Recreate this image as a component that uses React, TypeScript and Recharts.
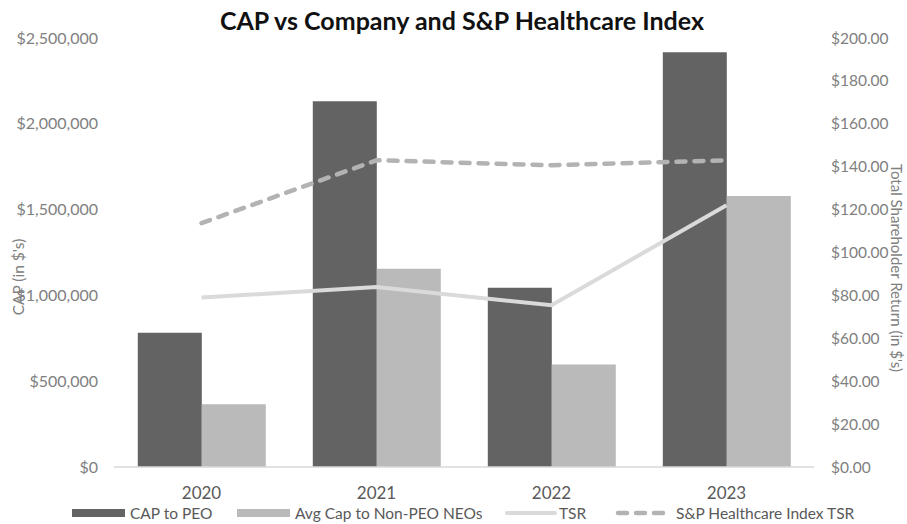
import { Bar, ComposedChart, Line, XAxis, YAxis } from "recharts";

const years = ["2020", "2021", "2022", "2023"];
const capToPeo = [783000, 2131000, 1045000, 2417000];
const avgCapNonPeo = [365000, 1156000, 597000, 1579000];
const tsr = [79.0, 83.9, 75.4, 122.0];
const spHealthcareTsr = [113.7, 143.0, 140.7, 143.0];

const capTicks = [0, 500000, 1000000, 1500000, 2000000, 2500000];
const tsrTicks = [0, 20, 40, 60, 80, 100, 120, 140, 160, 180, 200];

const data = years.map((year, i) => ({
  year,
  cap: capToPeo[i],
  avg: avgCapNonPeo[i],
  tsr: tsr[i],
  sp: spHealthcareTsr[i],
}));

const FONT = "Lato, 'Open Sans', sans-serif";
const DARK = "#636363";
const LIGHT = "#bababa";
const TSR_COLOR = "#dadada";
const SP_COLOR = "#b3b3b3";
const TICK = "#808080";
const TEXT = "#595959";

const money = (v: number) => "$" + v.toLocaleString("en-US");
const money2 = (v: number) => "$" + v.toFixed(2);

const legendText = { fontSize: 15.5, color: TEXT, fontFamily: FONT, marginLeft: 5 } as const;

export default function App() {
  return (
    <div style={{ position: "absolute", left: 0, top: 0, width: 907, height: 524, background: "#fff", fontFamily: FONT }}>
      <div
        style={{
          position: "absolute",
          left: 0,
          width: 924,
          top: 4,
          textAlign: "center",
          fontSize: 25,
          fontWeight: 700,
          color: "#111",
          lineHeight: "32px",
        }}
      >
        CAP vs Company and S&amp;P Healthcare Index
      </div>
      <ComposedChart
        width={907}
        height={524}
        data={data}
        margin={{ top: 38, right: 13, bottom: 0, left: 14 }}
        barCategoryGap="13.6%"
        barGap={0}
      >
        <XAxis
          dataKey="year"
          height={57}
          axisLine={{ stroke: "#d9d9d9", strokeWidth: 1.5 }}
          tickLine={false}
          tickSize={0}
          tickMargin={20}
          tick={{ fill: TEXT, fontSize: 17, fontFamily: FONT }}
        />
        <YAxis
          yAxisId="left"
          width={100}
          domain={[0, 2500000]}
          ticks={capTicks}
          tickFormatter={money}
          axisLine={false}
          tickLine={false}
          tickSize={0}
          tickMargin={16}
          tick={{ fill: TICK, fontSize: 16, fontFamily: FONT }}
          label={{
            content: () => (
              <text
                x={24}
                y={277}
                transform="rotate(-90 24 277)"
                textAnchor="middle"
                fill={TICK}
                fontSize={15.5}
                fontFamily={FONT}
              >
                CAP (in $'s)
              </text>
            ),
          }}
        />
        <YAxis
          yAxisId="right"
          orientation="right"
          width={80}
          domain={[0, 200]}
          ticks={tsrTicks}
          tickFormatter={money2}
          axisLine={false}
          tickLine={false}
          tickSize={0}
          tickMargin={17}
          tick={{ fill: TICK, fontSize: 15.5, fontFamily: FONT }}
          label={{
            content: () => (
              <text
                x={891}
                y={268}
                transform="rotate(90 891 268)"
                textAnchor="middle"
                fill={TICK}
                fontSize={15}
                fontFamily={FONT}
              >
                Total Shareholder Return (in $'s)
              </text>
            ),
          }}
        />
        <Bar yAxisId="left" dataKey="cap" name="CAP to PEO" fill={DARK} isAnimationActive={false} />
        <Bar yAxisId="left" dataKey="avg" name="Avg Cap to Non-PEO NEOs" fill={LIGHT} isAnimationActive={false} />
        <Line
          yAxisId="right"
          type="linear"
          dataKey="tsr"
          name="TSR"
          stroke={TSR_COLOR}
          strokeWidth={4}
          dot={false}
          isAnimationActive={false}
        />
        <Line
          yAxisId="right"
          type="linear"
          dataKey="sp"
          name="S&P Healthcare Index TSR"
          stroke={SP_COLOR}
          strokeWidth={4.5}
          strokeDasharray="9 9"
          strokeLinecap="round"
          dot={false}
          isAnimationActive={false}
        />
      </ComposedChart>

      {/* legend */}
      <div style={{ position: "absolute", left: 72, top: 504, display: "flex", alignItems: "center", height: 18 }}>
        <div style={{ width: 53, height: 8, background: DARK }} />
        <span style={legendText}>CAP to PEO</span>
      </div>
      <div style={{ position: "absolute", left: 237, top: 504, display: "flex", alignItems: "center", height: 18 }}>
        <div style={{ width: 53, height: 8, background: LIGHT }} />
        <span style={legendText}>Avg Cap to Non-PEO NEOs</span>
      </div>
      <div style={{ position: "absolute", left: 505, top: 504, display: "flex", alignItems: "center", height: 18 }}>
        <div style={{ width: 52, height: 4, background: TSR_COLOR, borderRadius: 2 }} />
        <span style={{ ...legendText, marginLeft: 2 }}>TSR</span>
      </div>
      <div style={{ position: "absolute", left: 615, top: 504, display: "flex", alignItems: "center", height: 18 }}>
        <svg width={56} height={8}>
          <line x1={3} y1={4} x2={53} y2={4} stroke={SP_COLOR} strokeWidth={4.5} strokeDasharray="9 9" strokeLinecap="round" />
        </svg>
        <span style={{ ...legendText, marginLeft: 5 }}>S&amp;P Healthcare Index TSR</span>
      </div>
    </div>
  );
}
